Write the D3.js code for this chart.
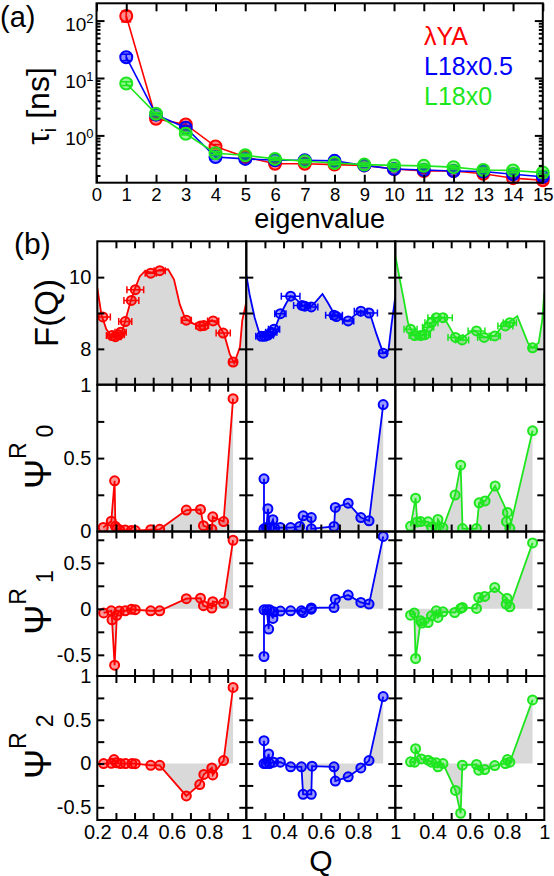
<!DOCTYPE html>
<html>
<head>
<meta charset="utf-8">
<script src="https://cdn.jsdelivr.net/npm/d3@7/dist/d3.min.js"></script>
<style>
html,body{margin:0;padding:0;background:#fff;}
svg{display:block;}
</style>
</head>
<body>
<svg id="chart" width="554" height="876"></svg>
<script>
// ================= DATA =================
// ---- panel (a): relaxation times ----
const eigenvalues = [1,2,3,4,5,6,7,8,9,10,11,12,13,14,15];
const tauRed   = [120, 1.95, 1.55, 0.64, 0.42, 0.32, 0.32, 0.31, 0.30, 0.26, 0.24, 0.24, 0.215, 0.18, 0.165];
const tauBlue  = [23, 2.3, 1.36, 0.42, 0.39, 0.37, 0.37, 0.36, 0.30, 0.26, 0.25, 0.24, 0.235, 0.21, 0.19];
const tauGreen = [8.0, 2.38, 1.07, 0.49, 0.45, 0.39, 0.355, 0.33, 0.31, 0.30, 0.295, 0.28, 0.25, 0.245, 0.225];
const tauErrRed   = [25, 0.1, 0.15, 0.05, 0.02, 0.02, 0.02, 0.02, 0.02, 0.02, 0.02, 0.02, 0.02, 0.03, 0.02];
const tauErrBlue  = [3, 0.1, 0.1, 0.03, 0.02, 0.02, 0.02, 0.02, 0.02, 0.02, 0.02, 0.02, 0.02, 0.02, 0.02];
const tauErrGreen = [0.6, 0.1, 0.05, 0.03, 0.02, 0.02, 0.02, 0.02, 0.02, 0.02, 0.02, 0.02, 0.02, 0.02, 0.02];
const seriesNames = ["λYA", "L18x0.5", "L18x0"];
const xTicksA = [0,1,2,3,4,5,6,7,8,9,10,11,12,13,14,15];
const yMajorA = [1, 10, 100];
const yMinorA = [0.2,0.3,0.4,0.5,0.6,0.7,0.8,0.9,2,3,4,5,6,7,8,9,20,30,40,50,60,70,80,90];

// ---- panel (b): free energy profiles F(Q) (line) ----
const fLineRed = [[0.2,9.70],[0.222,8.96],[0.248,8.55],[0.272,8.37],[0.293,8.32],[0.329,8.41],[0.347,8.73],[0.379,9.33],[0.40,9.65],[0.428,10.02],[0.454,10.16],[0.49,10.13],[0.535,10.2],[0.58,10.22],[0.612,9.93],[0.643,9.24],[0.67,8.87],[0.705,8.73],[0.741,8.64],[0.777,8.67],[0.816,8.80],[0.849,8.69],[0.881,8.41],[0.911,7.86],[0.935,7.6],[0.966,8.05],[0.978,8.78],[1.0,9.3]];
const fLineBlue = [[0.2,10.06],[0.218,9.51],[0.245,8.87],[0.272,8.41],[0.295,8.32],[0.325,8.37],[0.352,8.55],[0.385,8.98],[0.415,9.28],[0.438,9.47],[0.469,9.38],[0.505,9.19],[0.549,9.19],[0.576,9.33],[0.609,9.53],[0.639,9.28],[0.671,8.98],[0.711,8.82],[0.747,8.78],[0.782,8.94],[0.815,9.05],[0.863,9.0],[0.899,8.41],[0.935,7.88],[0.963,7.95],[0.98,8.69],[1.0,9.45]];
const fLineGreen = [[0.2,10.6],[0.223,9.97],[0.247,9.33],[0.268,8.73],[0.295,8.41],[0.322,8.37],[0.349,8.39],[0.376,8.6],[0.403,8.78],[0.429,8.89],[0.462,8.87],[0.492,8.6],[0.523,8.32],[0.555,8.27],[0.587,8.41],[0.623,8.52],[0.653,8.41],[0.68,8.32],[0.734,8.37],[0.77,8.6],[0.806,8.73],[0.855,8.91],[0.912,8.17],[0.937,8.03],[0.97,8.17],[0.989,8.81],[1.0,9.56]];

// ---- panel (b): F(Q) states: Q, F, horizontal error ----
const fQRed   = [0.23,0.279,0.297,0.315,0.325,0.35,0.383,0.404,0.487,0.535,0.678,0.754,0.772,0.822,0.876,0.929];
const fValRed = [8.89,8.37,8.34,8.39,8.46,8.76,9.35,9.65,10.11,10.18,8.80,8.64,8.65,8.78,8.44,7.63];
const fErrRed = [0.04,0.03,0.03,0.03,0.03,0.035,0.04,0.045,0.03,0.03,0.027,0.025,0.025,0.03,0.038,0.02];
const fQBlue   = [0.281,0.299,0.316,0.334,0.349,0.383,0.438,0.499,0.514,0.549,0.671,0.684,0.747,0.815,0.859,0.935];
const fValBlue = [8.35,8.35,8.38,8.46,8.55,8.98,9.47,9.21,9.19,9.17,8.94,8.9,8.78,9.05,9.0,7.88];
const fErrBlue = [0.03,0.03,0.03,0.03,0.03,0.03,0.05,0.045,0.03,0.035,0.045,0.03,0.03,0.035,0.045,0.02];
const fQGreen   = [0.282,0.304,0.336,0.358,0.376,0.394,0.42,0.456,0.523,0.559,0.636,0.677,0.734,0.791,0.815,0.937];
const fValGreen = [8.55,8.37,8.37,8.39,8.6,8.73,8.87,8.87,8.32,8.25,8.5,8.32,8.36,8.64,8.73,8.03];
const fErrGreen = [0.035,0.03,0.03,0.03,0.03,0.035,0.045,0.05,0.04,0.035,0.045,0.035,0.03,0.04,0.035,0.02];

// ---- panel (b): right eigenvectors psi_0, psi_1, psi_2 ([Q, value]) ----
const psi0Red = [[0.232,0.028],[0.275,0.07],[0.293,0.345],[0.297,0.035],[0.305,0.02],[0.32,0.012],[0.35,0.01],[0.383,0.007],[0.404,0.006],[0.487,0.012],[0.535,0.015],[0.678,0.146],[0.754,0.15],[0.77,0.04],[0.815,0.016],[0.82,0.1],[0.878,0.068],[0.929,0.905]];
const psi1Red = [[0.234,-0.045],[0.275,-0.022],[0.279,-0.12],[0.293,-0.612],[0.305,-0.07],[0.318,-0.025],[0.35,-0.022],[0.383,-0.005],[0.404,-0.01],[0.487,-0.022],[0.535,-0.022],[0.678,0.11],[0.754,0.116],[0.77,0.034],[0.815,0.008],[0.82,0.078],[0.878,0.062],[0.929,0.745]];
const psi2Red = [[0.234,0.0],[0.275,0.002],[0.29,0.045],[0.302,0.008],[0.324,0.0],[0.352,0.0],[0.386,0.0],[0.404,-0.002],[0.487,-0.02],[0.535,-0.02],[0.678,-0.37],[0.75,-0.24],[0.772,-0.125],[0.815,-0.05],[0.82,-0.13],[0.878,0.034],[0.929,0.87]];
const psi0Blue = [[0.295,0.359],[0.295,0.018],[0.308,0.027],[0.316,0.155],[0.325,0.023],[0.343,0.08],[0.352,0.023],[0.383,0.027],[0.438,0.027],[0.487,0.034],[0.505,0.107],[0.549,0.095],[0.549,0.018],[0.671,0.034],[0.678,0.164],[0.747,0.193],[0.815,0.095],[0.859,0.073],[0.935,0.865]];
const psi1Blue = [[0.295,-0.518],[0.295,-0.011],[0.31,-0.011],[0.32,-0.22],[0.325,-0.011],[0.343,-0.105],[0.347,-0.033],[0.383,-0.025],[0.438,-0.022],[0.496,-0.022],[0.505,-0.04],[0.549,-0.004],[0.549,0.01],[0.671,0.014],[0.678,0.105],[0.747,0.149],[0.815,0.069],[0.859,0.051],[0.935,0.786]];
const psi2Blue = [[0.295,0.261],[0.295,0.0],[0.307,0.0],[0.32,0.11],[0.325,0.0],[0.347,0.015],[0.383,0.015],[0.438,-0.038],[0.496,-0.038],[0.505,-0.352],[0.549,-0.352],[0.553,-0.03],[0.671,-0.038],[0.678,-0.2],[0.747,-0.152],[0.815,-0.05],[0.859,0.034],[0.935,0.765]];
const psi0Green = [[0.282,0.035],[0.309,0.227],[0.318,0.065],[0.336,0.068],[0.376,0.066],[0.394,0.03],[0.42,0.015],[0.429,0.082],[0.456,0.025],[0.521,0.248],[0.551,0.452],[0.561,0.02],[0.636,0.02],[0.65,0.195],[0.682,0.208],[0.736,0.31],[0.802,0.13],[0.797,0.068],[0.815,0.022],[0.937,0.686]];
const psi1Green = [[0.282,-0.069],[0.302,-0.045],[0.309,-0.54],[0.336,-0.13],[0.343,-0.155],[0.376,-0.149],[0.394,-0.076],[0.42,-0.022],[0.429,-0.094],[0.456,-0.033],[0.519,-0.04],[0.551,0.004],[0.56,0.015],[0.636,0.004],[0.648,0.123],[0.68,0.134],[0.734,0.232],[0.80,0.112],[0.795,0.051],[0.815,0.022],[0.937,0.716]];
const psi2Green = [[0.282,0.019],[0.304,0.015],[0.309,0.17],[0.34,0.053],[0.376,0.038],[0.394,0.015],[0.42,0.008],[0.429,-0.038],[0.456,0.0],[0.523,-0.307],[0.551,-0.568],[0.56,-0.019],[0.636,-0.011],[0.648,-0.076],[0.68,-0.068],[0.734,-0.023],[0.791,0.0],[0.802,0.045],[0.815,0.015],[0.937,0.727]];

// ---- panel (b) axis ticks / labels ----
const xTicksB = [0.3,0.4,0.5,0.6,0.7,0.8,0.9];
const xLabelsB = [[0.2,0.4,0.6,0.8,1],[0.4,0.6,0.8,1],[0.4,0.6,0.8,1]];
const yDomainsB = [[7,11],[0,1],[-0.73,0.84],[-0.645,1]];
const yTicksB = [[8,9,10],[0.25,0.5,0.75],[-0.5,-0.25,0,0.25,0.5,0.75],[-0.5,-0.25,0,0.25,0.5,0.75]];
const yLabelsB = [[8,10],[0,0.5,1],[-0.5,0,0.5],[-0.5,0,0.5,1]];
const psiSubs = ["0","1","2"];

// ================= DRAWING =================
const FONT = '"Liberation Sans", Arial, Helvetica, sans-serif';
const COLORS = ['#ff0000', '#0000ff', '#1ee61e'];
const GREY = '#d9d9d9';
const svg = d3.select('#chart').attr('font-family', FONT);

function styleAxis(g, fs) {
  g.select('.domain').remove();
  g.attr('font-family', FONT).attr('font-size', fs || 20);
  g.selectAll('.tick line').attr('stroke', '#000').attr('stroke-width', 2);
  g.selectAll('.tick text').attr('fill', '#000');
}
const fmtNum = d => String(d);

// ---------- panel (a) ----------
const A = {l: 96.5, r: 542.8, t: 3.3, b: 182.7};
const xA = d3.scaleLinear().domain([0, 15]).range([A.l, A.r]);
const yA = d3.scaleLog().domain([0.15, 200]).range([A.b, A.t]);
const gA = svg.append('g');

const tauSeries = [tauRed, tauBlue, tauGreen];
const tauErrs = [tauErrRed, tauErrBlue, tauErrGreen];
tauSeries.forEach((vals, i) => {
  const pts = eigenvalues.map((e, j) => ({x: e, y: vals[j], e: tauErrs[i][j]}));
  const g = gA.append('g');
  g.append('path').datum(pts)
    .attr('d', d3.line().x(d => xA(d.x)).y(d => yA(d.y)))
    .attr('fill', 'none').attr('stroke', COLORS[i]).attr('stroke-width', 1.6);
  const eb = g.append('g').attr('stroke', COLORS[i]).attr('stroke-width', 1.6);
  pts.forEach(d => {
    const x = xA(d.x), yt = yA(d.y + d.e), yb = yA(Math.max(d.y - d.e, 0.01));
    eb.append('line').attr('x1', x).attr('x2', x).attr('y1', yt).attr('y2', yb);
    eb.append('line').attr('x1', x - 5).attr('x2', x + 5).attr('y1', yt).attr('y2', yt);
    eb.append('line').attr('x1', x - 5).attr('x2', x + 5).attr('y1', yb).attr('y2', yb);
  });
  g.selectAll('circle').data(pts).join('circle')
    .attr('cx', d => xA(d.x)).attr('cy', d => yA(d.y)).attr('r', 6)
    .attr('fill', COLORS[i]).attr('fill-opacity', 0.45)
    .attr('stroke', COLORS[i]).attr('stroke-width', 2);
});

// axes (a)
gA.append('g').attr('transform', `translate(0,${A.b})`)
  .call(d3.axisBottom(xA).tickValues(xTicksA).tickSizeInner(-8).tickSizeOuter(0).tickPadding(5).tickFormat(d3.format('d')))
  .call(g => styleAxis(g, 18.5));
gA.append('g').attr('transform', `translate(0,${A.t})`)
  .call(d3.axisTop(xA).tickValues(xTicksA).tickSizeInner(-8).tickSizeOuter(0).tickFormat(''))
  .call(g => styleAxis(g));
gA.append('g').attr('transform', `translate(${A.l},0)`)
  .call(d3.axisLeft(yA).tickValues(yMinorA).tickSizeInner(-4).tickSizeOuter(0).tickFormat(''))
  .call(g => styleAxis(g));
gA.append('g').attr('transform', `translate(${A.r},0)`)
  .call(d3.axisRight(yA).tickValues(yMinorA).tickSizeInner(-4).tickSizeOuter(0).tickFormat(''))
  .call(g => styleAxis(g));
gA.append('g').attr('transform', `translate(${A.r},0)`)
  .call(d3.axisRight(yA).tickValues(yMajorA).tickSizeInner(-8).tickSizeOuter(0).tickFormat(''))
  .call(g => styleAxis(g));
gA.append('g').attr('transform', `translate(${A.l},0)`)
  .call(d3.axisLeft(yA).tickValues(yMajorA).tickSizeInner(-8).tickSizeOuter(0).tickPadding(3).tickFormat(''))
  .call(g => styleAxis(g, 19))
  .call(g => g.selectAll('.tick text').attr('dy', '0.5em').each(function(d) {
    const t = d3.select(this);
    t.text(null);
    t.append('tspan').text('10');
    t.append('tspan').attr('font-size', 13).attr('dy', '-0.55em').text(Math.round(Math.log10(d)));
  }));
gA.append('rect').attr('x', A.l).attr('y', A.t).attr('width', A.r - A.l).attr('height', A.b - A.t)
  .attr('fill', 'none').attr('stroke', '#000').attr('stroke-width', 2);

// legend
seriesNames.forEach((n, i) => {
  svg.append('text').attr('x', 424).attr('y', 45 + 30 * i).attr('font-size', 25)
    .attr('fill', COLORS[i]).text(n);
});

// labels (a)
svg.append('text').attr('x', 0).attr('y', 27).attr('font-size', 29).text('(a)');
svg.append('text').attr('x', (A.l + A.r) / 2).attr('y', 228).attr('text-anchor', 'middle')
  .attr('font-size', 27).text('eigenvalue');
{
  const t = svg.append('text').attr('transform', 'translate(49,106) rotate(-90)')
    .attr('text-anchor', 'middle').attr('font-size', 32);
  t.append('tspan').text('τ');
  t.append('tspan').attr('font-size', 20).attr('dy', 7).text('i');
  t.append('tspan').attr('dy', -7).text(' [ns]');
}

// ---------- panel (b) ----------
const bLeft = 97.3, colW = 149;
const rowEdges = [241.3, 384.7, 531.5, 676, 820];
const cols = [
  {fLine: fLineRed, fQ: fQRed, fV: fValRed, fE: fErrRed, psi: [psi0Red, psi1Red, psi2Red]},
  {fLine: fLineBlue, fQ: fQBlue, fV: fValBlue, fE: fErrBlue, psi: [psi0Blue, psi1Blue, psi2Blue]},
  {fLine: fLineGreen, fQ: fQGreen, fV: fValGreen, fE: fErrGreen, psi: [psi0Green, psi1Green, psi2Green]}
];
const defs = svg.append('defs');
const gB = svg.append('g');

cols.forEach((col, c) => {
  const color = COLORS[c];
  const x = d3.scaleLinear().domain([0.2, 1]).range([bLeft + c * colW, bLeft + (c + 1) * colW]);
  for (let r = 0; r < 4; r++) {
    const y = d3.scaleLinear().domain(yDomainsB[r]).range([rowEdges[r + 1], rowEdges[r]]);
    const id = `clip-${c}-${r}`;
    defs.append('clipPath').attr('id', id).append('rect')
      .attr('x', x.range()[0]).attr('y', rowEdges[r])
      .attr('width', colW).attr('height', rowEdges[r + 1] - rowEdges[r]);
    const g = gB.append('g');
    const inner = g.append('g').attr('clip-path', `url(#${id})`);
    if (r === 0) {
      const base = yDomainsB[0][0];
      inner.append('path').datum(col.fLine)
        .attr('d', d3.area().x(d => x(d[0])).y0(y(base)).y1(d => y(d[1])))
        .attr('fill', GREY);
      inner.append('path').datum(col.fLine)
        .attr('d', d3.line().x(d => x(d[0])).y(d => y(d[1])))
        .attr('fill', 'none').attr('stroke', color).attr('stroke-width', 1.8);
      const pts = col.fQ.map((q, j) => ({q: q, v: col.fV[j], e: col.fE[j]}));
      const eb = inner.append('g').attr('stroke', color).attr('stroke-width', 1.5);
      pts.forEach(d => {
        const yy = y(d.v), x0 = x(d.q - d.e), x1 = x(d.q + d.e);
        eb.append('line').attr('x1', x0).attr('x2', x1).attr('y1', yy).attr('y2', yy);
        eb.append('line').attr('x1', x0).attr('x2', x0).attr('y1', yy - 3.5).attr('y2', yy + 3.5);
        eb.append('line').attr('x1', x1).attr('x2', x1).attr('y1', yy - 3.5).attr('y2', yy + 3.5);
      });
      inner.selectAll('circle').data(pts).join('circle')
        .attr('cx', d => x(d.q)).attr('cy', d => y(d.v)).attr('r', 4.5)
        .attr('fill', color).attr('fill-opacity', 0.4)
        .attr('stroke', color).attr('stroke-width', 2);
    } else {
      const data = col.psi[r - 1];
      inner.append('path').datum(data)
        .attr('d', d3.area().x(d => x(d[0])).y0(y(0)).y1(d => y(d[1])))
        .attr('fill', GREY);
      inner.append('path').datum(data)
        .attr('d', d3.line().x(d => x(d[0])).y(d => y(d[1])))
        .attr('fill', 'none').attr('stroke', color).attr('stroke-width', 1.8);
      inner.selectAll('circle').data(data).join('circle')
        .attr('cx', d => x(d[0])).attr('cy', d => y(d[1])).attr('r', 4.5)
        .attr('fill', color).attr('fill-opacity', 0.4)
        .attr('stroke', color).attr('stroke-width', 2);
    }
    // ticks (inward on all sides)
    const y0px = rowEdges[r + 1], y1px = rowEdges[r];
    g.append('g').attr('transform', `translate(0,${y0px})`)
      .call(d3.axisBottom(x).tickValues(xTicksB).tickSizeInner(-7).tickSizeOuter(0).tickFormat(''))
      .call(gg => styleAxis(gg));
    g.append('g').attr('transform', `translate(0,${y1px})`)
      .call(d3.axisTop(x).tickValues(xTicksB).tickSizeInner(-7).tickSizeOuter(0).tickFormat(''))
      .call(gg => styleAxis(gg));
    g.append('g').attr('transform', `translate(${x.range()[0]},0)`)
      .call(d3.axisLeft(y).tickValues(yTicksB[r]).tickSizeInner(-7).tickSizeOuter(0).tickFormat(''))
      .call(gg => styleAxis(gg));
    g.append('g').attr('transform', `translate(${x.range()[1]},0)`)
      .call(d3.axisRight(y).tickValues(yTicksB[r]).tickSizeInner(-7).tickSizeOuter(0).tickFormat(''))
      .call(gg => styleAxis(gg));
    g.append('rect').attr('x', x.range()[0]).attr('y', y1px).attr('width', colW).attr('height', y0px - y1px)
      .attr('fill', 'none').attr('stroke', '#000').attr('stroke-width', 2);
    if (c === 0) {
      g.append('g').attr('transform', `translate(${x.range()[0]},0)`)
        .call(d3.axisLeft(y).tickValues(yLabelsB[r]).tickSize(0).tickPadding(6).tickFormat(fmtNum))
        .call(gg => styleAxis(gg, 20));
    }
    if (r === 3) {
      g.append('g').attr('transform', `translate(0,${y0px})`)
        .call(d3.axisBottom(x).tickValues(xLabelsB[c]).tickSize(0).tickPadding(5).tickFormat(fmtNum))
        .call(gg => styleAxis(gg, 20));
    }
  }
});

// labels (b)
svg.append('text').attr('x', 14).attr('y', 254).attr('font-size', 30).text('(b)');
svg.append('text').attr('transform', `translate(58,${(rowEdges[0] + rowEdges[1]) / 2}) rotate(-90)`)
  .attr('text-anchor', 'middle').attr('font-size', 33).text('F(Q)');
psiSubs.forEach((s, i) => {
  const cy = (rowEdges[i + 1] + rowEdges[i + 2]) / 2;
  const t = svg.append('text').attr('transform', `translate(51,${cy + 31}) rotate(-90)`)
    .attr('font-size', 36);
  t.append('tspan').text('Ψ');
  t.append('tspan').attr('font-size', 23).attr('dy', -25).text('R');
  t.append('tspan').attr('font-size', 23).attr('dx', 5).attr('dy', 27).text(s);
});
svg.append('text').attr('x', bLeft + 1.5 * colW).attr('y', 871).attr('text-anchor', 'middle')
  .attr('font-size', 30).text('Q');
</script>
</body>
</html>
